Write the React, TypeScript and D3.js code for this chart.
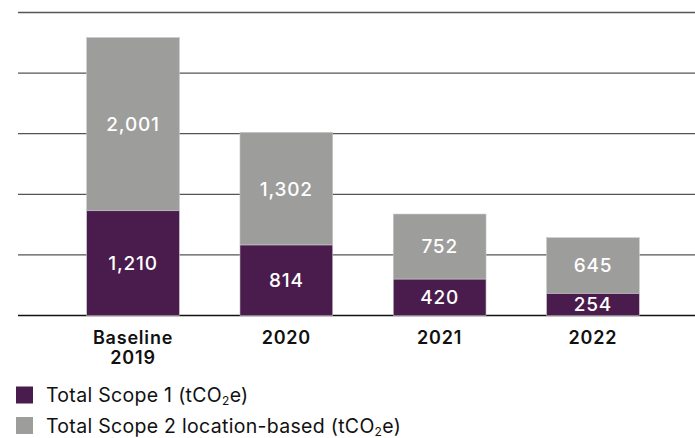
import React from "react";
import * as d3 from "d3";

const categories = ["Baseline\n2019", "2020", "2021", "2022"];
const scope1 = [1210, 814, 420, 254];
const scope2 = [2001, 1302, 752, 645];
const gridTicks = [0, 700, 1400, 2100, 2800, 3500];
const seriesNames = ["Total Scope 1", "Total Scope 2 location-based"];
const colors = ["#4a1c4d", "#9d9d9c"];

const W = 695;
const H = 438;
const FONT = "Inter, 'Liberation Sans', Arial, sans-serif";

export default function App() {
  const x = d3.scaleBand<string>().domain(categories).range([56, 670]).paddingInner(0.395).paddingOuter(0.2);
  const y = d3.scaleLinear().domain([0, 3500]).range([315.5, 12.5]);
  const fmt = d3.format(",");
  const stacked = categories.map((c, i) => ({ c, s1: scope1[i], s2: scope2[i] }));

  return (
    <svg width={W} height={H} style={{ position: "fixed", left: 0, top: 0, background: "#fff" }} fontFamily={FONT}>
      {gridTicks.map((t) => (
        <line key={t} x1={18} x2={W} y1={y(t)} y2={y(t)} stroke={t === 0 ? "#111" : "#555"} strokeWidth={1.3} />
      ))}
      {stacked.map((d) => {
        const x0 = x(d.c)!;
        const bw = x.bandwidth();
        const y1 = y(d.s1);
        const y2 = y(d.s1 + d.s2);
        return (
          <g key={d.c}>
            <rect x={x0} y={y2} width={bw} height={y1 - y2} fill={colors[1]} stroke="#c8c8c8" strokeWidth={0.6} />
            <rect x={x0} y={y1} width={bw} height={y(0) - y1} fill={colors[0]} stroke="#c8c8c8" strokeWidth={0.6} />
            <text x={x0 + bw / 2} y={(y1 + y2) / 2} dy="0.36em" textAnchor="middle" fill="#fff" fontSize={19} fontWeight={500} letterSpacing={0.8}>
              {fmt(d.s2)}
            </text>
            <text x={x0 + bw / 2} y={(y1 + y(0)) / 2} dy="0.36em" textAnchor="middle" fill="#fff" fontSize={19} fontWeight={500} letterSpacing={0.8}>
              {fmt(d.s1)}
            </text>
            {d.c.split("\n").map((line, k) => (
              <text key={k} x={x0 + bw / 2} y={344 + k * 20} textAnchor="middle" fill="#111" fontSize={18} fontWeight={600} letterSpacing={0.8}>
                {line}
              </text>
            ))}
          </g>
        );
      })}
      {seriesNames.map((n, i) => (
        <g key={n} transform={`translate(16, ${386.5 + i * 30.5})`}>
          <rect x={0} y={0} width={17} height={17} fill={colors[i]} />
          <text x={30} y={15.5} fill="#111" fontSize={19.5} letterSpacing={0.3}>
            {n} (tCO<tspan fontSize={12} dy={3}>2</tspan>
            <tspan dy={-3}>e)</tspan>
          </text>
        </g>
      ))}
    </svg>
  );
}
